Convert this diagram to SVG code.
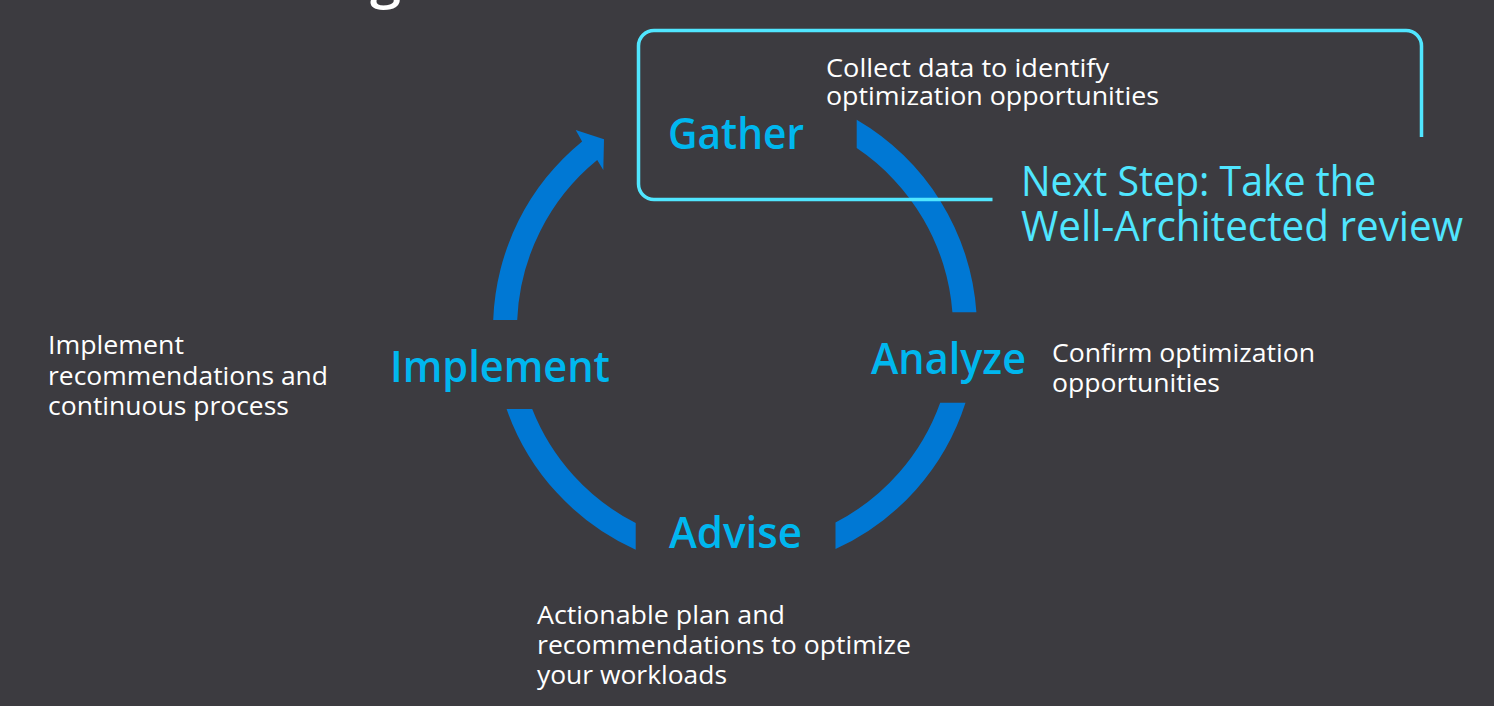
<svg xmlns="http://www.w3.org/2000/svg" width="1494" height="706" viewBox="0 0 1494 706">
<style>
.bg{fill:#3c3b40}
.arc{fill:#0078d4}
.lbl{font-family:"Open Sans","Noto Sans",sans-serif;font-weight:600;font-size:44px;fill:#00b7ef}
.desc{font-family:"Open Sans","Noto Sans",sans-serif;font-size:26px;fill:#ffffff}
.next{font-family:"Open Sans","Noto Sans",sans-serif;font-size:42px;fill:#50e6ff}
.box{fill:none;stroke:#50e6ff;stroke-width:3.5}
.title{font-family:"Open Sans","Noto Sans",sans-serif;font-weight:600;font-size:56px;fill:#ffffff}
</style>
<rect class="bg" x="0" y="0" width="1494" height="706"/>
<text class="title" x="370" y="-3">g</text>
<g id="connectors">
<path class="arc" d="M 493.2 320 A 242 242 0 0 1 582.1 141.4 L 575.7 130 L 604 139.3 L 603.3 170 L 597.2 160.1 A 218 218 0 0 0 517.2 320 Z"/>
<path class="arc" d="M 856.7 119.8 A 242 242 0 0 1 976.4 312.3 L 952.4 312.3 A 218 218 0 0 0 856.7 148.1 Z"/>
<path class="arc" d="M 965.5 402.7 A 242 242 0 0 1 835.5 549.1 L 835.5 522.5 A 218 218 0 0 0 940.2 402.7 Z"/>
<path class="arc" d="M 635.7 549.7 A 242 242 0 0 1 506.6 409 L 532.2 409 A 218 218 0 0 0 635.7 523.1 Z"/>
</g>
<g id="next-step">
<path class="box" d="M 992.5 199.5 H 654 A 15.5 15.5 0 0 1 638.5 184 V 46 A 15.5 15.5 0 0 1 654 30.5 H 1406 A 15.5 15.5 0 0 1 1421.5 46 V 137"/>
<text class="next" x="1021" y="196" textLength="355" lengthAdjust="spacingAndGlyphs">Next Step: Take the</text>
<text class="next" x="1021" y="241" textLength="442" lengthAdjust="spacingAndGlyphs">Well-Architected review</text>
</g>
<g id="gather">
<text class="lbl" x="668" y="149" textLength="136" lengthAdjust="spacingAndGlyphs">Gather</text>
<text class="desc" x="826" y="77" textLength="283" lengthAdjust="spacingAndGlyphs">Collect data to identify</text>
<text class="desc" x="826" y="105" textLength="333" lengthAdjust="spacingAndGlyphs">optimization opportunities</text>
</g>
<g id="analyze">
<text class="lbl" x="871" y="374" textLength="155" lengthAdjust="spacingAndGlyphs">Analyze</text>
<text class="desc" x="1052" y="362" textLength="263" lengthAdjust="spacingAndGlyphs">Confirm optimization</text>
<text class="desc" x="1052" y="392" textLength="168" lengthAdjust="spacingAndGlyphs">opportunities</text>
</g>
<g id="advise">
<text class="lbl" x="669" y="548" textLength="133" lengthAdjust="spacingAndGlyphs">Advise</text>
<text class="desc" x="537" y="624" textLength="248" lengthAdjust="spacingAndGlyphs">Actionable plan and</text>
<text class="desc" x="537" y="654" textLength="374" lengthAdjust="spacingAndGlyphs">recommendations to optimize</text>
<text class="desc" x="537" y="684" textLength="190" lengthAdjust="spacingAndGlyphs">your workloads</text>
</g>
<g id="implement">
<text class="lbl" x="390" y="382" textLength="220" lengthAdjust="spacingAndGlyphs">Implement</text>
<text class="desc" x="48" y="354" textLength="136" lengthAdjust="spacingAndGlyphs">Implement</text>
<text class="desc" x="48" y="385" textLength="280" lengthAdjust="spacingAndGlyphs">recommendations and</text>
<text class="desc" x="48" y="415" textLength="241" lengthAdjust="spacingAndGlyphs">continuous process</text>
</g>
</svg>
